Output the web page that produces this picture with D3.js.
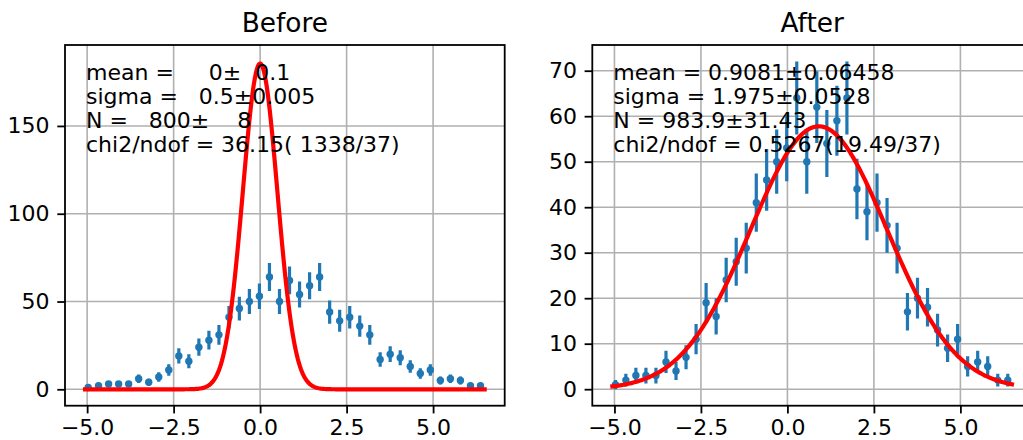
<!DOCTYPE html>
<html><head><meta charset="utf-8">
<script src="https://cdn.jsdelivr.net/npm/d3@7"></script>
<style>body{margin:0;background:#fff} svg{display:block}</style>
</head><body><svg id="c" width="1023" height="440"></svg>
<script>
// ---- data ----
const binX = [-4.97,-4.67,-4.38,-4.09,-3.80,-3.51,-3.22,-2.93,-2.64,-2.35,
              -2.06,-1.77,-1.48,-1.19,-0.90,-0.60,-0.31,-0.02,0.27,0.56,
              0.85,1.14,1.43,1.72,2.01,2.30,2.59,2.88,3.17,3.47,
              3.76,4.05,4.34,4.63,4.92,5.21,5.50,5.79,6.08,6.37];
const counts = [1,2,3,3,3,6,4,7,11,19,
                16,24,28,31,41,46,50,53,64,50,
                62,54,59,64,44,39,41,36,31,17,
                20,18,13,9,11,5,6,5,2,2];
const xTicks = [-5, -2.5, 0, 2.5, 5];
const xTickLabels = ["\u22125.0", "\u22122.5", "0.0", "2.5", "5.0"];
const yTicksBefore = [0, 50, 100, 150];
const yTicksAfter = [0, 10, 20, 30, 40, 50, 60, 70];
const fitBefore = {mean: 0, sigma: 0.5, N: 800};
const fitAfter = {mean: 0.9081, sigma: 1.975, N: 983.9};
const binWidth = 0.2907;
const curveRange = [-5.06, 6.49];
const textBefore = ["mean =     0\u00b1  0.1", "sigma =   0.5\u00b10.005", "N =   800\u00b1    8", "chi2/ndof = 36.15( 1338/37)"];
const textAfter = ["mean = 0.9081\u00b10.06458", "sigma = 1.975\u00b10.0528", "N = 983.9\u00b131.43", "chi2/ndof = 0.5267(19.49/37)"];
const titles = ["Before", "After"];

// ---- layout ----
const FONT = "DejaVu Sans";
const svg = d3.select("#c");
const plotTop = 45, plotBottom = 405.7, W = 439.7;
const xDomain = [-5.64, 7.07];

function gauss(f, x) {
  return f.N * binWidth / (f.sigma * Math.sqrt(2 * Math.PI)) * Math.exp(-0.5 * ((x - f.mean) / f.sigma) ** 2);
}

function panel(idx, left, yDomain, yTicks, fit, lines, title) {
  const x = d3.scaleLinear().domain(xDomain).range([left, left + W]);
  const y = d3.scaleLinear().domain(yDomain).range([plotBottom, plotTop]);
  const g = svg.append("g");
  const clipId = "clip" + idx;
  svg.append("clipPath").attr("id", clipId).append("rect")
    .attr("x", left).attr("y", plotTop).attr("width", W).attr("height", plotBottom - plotTop);

  // grid
  const grid = g.append("g").attr("clip-path", `url(#${clipId})`);
  grid.selectAll(".gx").data(xTicks).join("line")
    .attr("x1", d => x(d)).attr("x2", d => x(d)).attr("y1", plotTop).attr("y2", plotBottom)
    .attr("stroke", "#b0b0b0").attr("stroke-width", 1.6);
  grid.selectAll(".gy").data(yTicks).join("line")
    .attr("y1", d => y(d)).attr("y2", d => y(d)).attr("x1", left).attr("x2", left + W)
    .attr("stroke", "#b0b0b0").attr("stroke-width", 1.6);

  const plot = g.append("g").attr("clip-path", `url(#${clipId})`);
  const pts = binX.map((v, i) => ({x: v, n: counts[i], e: Math.sqrt(counts[i])}));
  plot.selectAll(".eb").data(pts).join("line")
    .attr("x1", d => x(d.x)).attr("x2", d => x(d.x))
    .attr("y1", d => y(d.n - d.e)).attr("y2", d => y(d.n + d.e))
    .attr("stroke", "#1f77b4").attr("stroke-width", 3.2);
  plot.selectAll(".pt").data(pts).join("circle")
    .attr("cx", d => x(d.x)).attr("cy", d => y(d.n)).attr("r", 3.7)
    .attr("fill", "#1f77b4");

  const cx = d3.range(0, 401).map(i => curveRange[0] + (curveRange[1] - curveRange[0]) * i / 400);
  plot.append("path")
    .attr("d", d3.line().x(d => x(d)).y(d => y(gauss(fit, d)))(cx))
    .attr("fill", "none").attr("stroke", "#ff0000").attr("stroke-width", 4.2)
    .attr("stroke-linecap", "square").attr("stroke-linejoin", "round");

  // axes
  const ax = g.append("g").attr("transform", `translate(0,${plotBottom})`)
    .call(d3.axisBottom(x).tickValues(xTicks).tickFormat((d, i) => xTickLabels[i]).tickSize(7.7).tickPadding(6));
  const ay = g.append("g").attr("transform", `translate(${left},0)`)
    .call(d3.axisLeft(y).tickValues(yTicks).tickFormat(d3.format("d")).tickSize(7.7).tickPadding(7.7));
  [ax, ay].forEach(a => {
    a.select(".domain").remove();
    a.selectAll(".tick line").attr("stroke", "#000").attr("stroke-width", 1.8);
    a.selectAll(".tick text").attr("font-family", FONT).attr("font-size", 22).attr("fill", "#000");
  });

  // spines
  g.append("rect").attr("x", left).attr("y", plotTop).attr("width", W).attr("height", plotBottom - plotTop)
    .attr("fill", "none").attr("stroke", "#000").attr("stroke-width", 1.8);

  // text box
  const t = g.append("text").attr("font-family", FONT).attr("font-size", 22).attr("fill", "#000")
    .attr("xml:space", "preserve").style("white-space", "pre");
  lines.forEach((s, i) => {
    t.append("tspan").attr("x", left + 21).attr("y", 80 + i * 24).text(s);
  });

  // title
  g.append("text").attr("x", left + W / 2).attr("y", 32.3).attr("text-anchor", "middle")
    .attr("font-family", FONT).attr("font-size", 26.4).attr("fill", "#000").text(title);
}

panel(0, 65, [-9.34, 196.1], yTicksBefore, fitBefore, textBefore, titles[0]);
panel(1, 592.3, [-3.63, 75.65], yTicksAfter, fitAfter, textAfter, titles[1]);
</script>
</body></html>
